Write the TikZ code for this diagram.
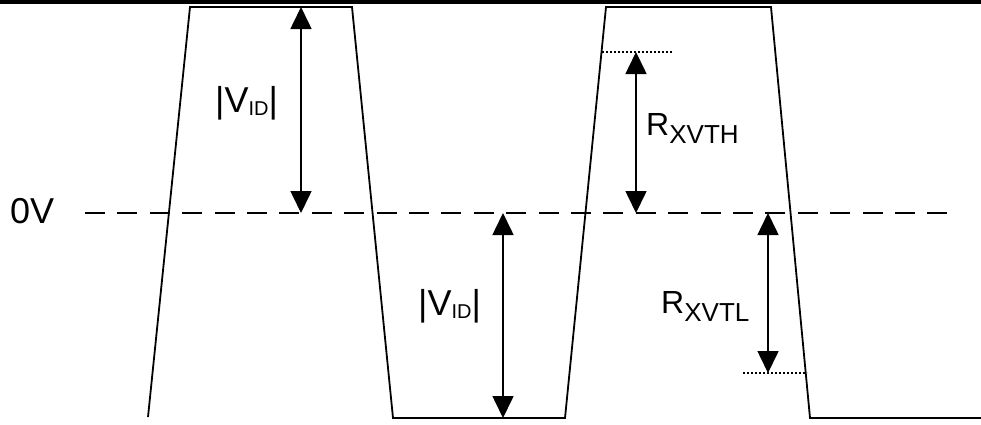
\documentclass[tikz,border=0pt]{standalone}
\usepackage{fontspec}
\setmainfont{Liberation Sans}
\usetikzlibrary{arrows.meta}
\begin{document}
\begin{tikzpicture}[x=1pt,y=-1pt,
  wave/.style={line width=1.8pt, line join=miter},
  dimarrow/.style={line width=1.6pt, {Triangle[length=22pt,width=21pt]}-{Triangle[length=22pt,width=21pt]}},
  zeroline/.style={line width=2.2pt, dash pattern=on 20pt off 12.4pt},
  refline/.style={line width=1.4pt, dash pattern=on 2pt off 2pt},
  biglbl/.style={inner sep=0pt, anchor=base west, font=\fontsize{36}{36}\selectfont},
  rlbl/.style={inner sep=0pt, anchor=base west, font=\fontsize{32}{32}\selectfont}]
\useasboundingbox (0,0) rectangle (981,424);
% top border line
\coordinate (tl) at (0,2);
\coordinate (tr) at (981,2);
\draw[line width=4pt] (tl) -- (tr);
% waveform
\coordinate (w0) at (148,417);
\coordinate (w1) at (190,7);
\coordinate (w2) at (352,7);
\coordinate (w3) at (393,418);
\coordinate (w4) at (565,418);
\coordinate (w5) at (606,7);
\coordinate (w6) at (771,7);
\coordinate (w7) at (810,418);
\coordinate (w8) at (981,418);
\draw[wave] (w0) -- (w1) -- (w2) -- (w3) -- (w4) -- (w5) -- (w6) -- (w7) -- (w8);
% zero line
\coordinate (z0) at (85,213);
\coordinate (z1) at (948,213);
\draw[zeroline] (z0) -- (z1);
% reference dotted lines
\coordinate (th0) at (602,52);
\coordinate (th1) at (673,52);
\coordinate (tl0) at (743,373);
\coordinate (tl1) at (807,373);
\draw[refline] (th0) -- (th1);
\draw[refline] (tl0) -- (tl1);
% dimension arrows
\coordinate (a1t) at (301,7);
\coordinate (a1b) at (301,213);
\coordinate (a2t) at (503,213);
\coordinate (a2b) at (503,418);
\coordinate (a3t) at (636,52);
\coordinate (a3b) at (636,213);
\coordinate (a4t) at (768,213);
\coordinate (a4b) at (768,373);
\draw[dimarrow] (a1t) -- (a1b);
\draw[dimarrow] (a2t) -- (a2b);
\draw[dimarrow] (a3t) -- (a3b);
\draw[dimarrow] (a4t) -- (a4b);
% labels
\node[biglbl] (zv) at (10,223) {0V};
\node[biglbl] (vid1) at (215,112) {|V\raisebox{-3pt}{\fontsize{20}{20}\selectfont ID}|};
\node[biglbl] (vid2) at (418,315) {|V\raisebox{-3pt}{\fontsize{20}{20}\selectfont ID}|};
\node[rlbl] (rth) at (646,135) {R\raisebox{-8pt}{\fontsize{26}{26}\selectfont XVTH}};
\node[rlbl] (rtl) at (661,313) {R\raisebox{-8pt}{\fontsize{26}{26}\selectfont XVTL}};
\end{tikzpicture}
\end{document}
